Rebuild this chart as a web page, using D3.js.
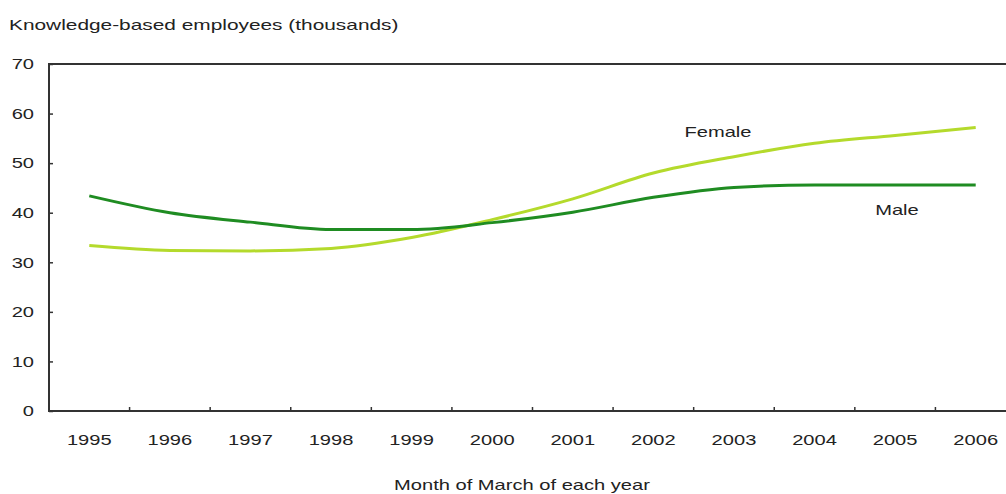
<!DOCTYPE html>
<html lang="en">
<head>
<meta charset="UTF-8">
<title>Knowledge-based employees</title>
<script src="https://d3js.org/d3.v7.min.js"></script>
<style>
  body {
    margin: 0;
    background: #fff;
    font-family: "Liberation Sans", Arial, sans-serif;
  }
  svg text {
    fill: #222;
  }
</style>
</head>
<body>
<div id="chart"></div>
<script>

// ------ Data ------
const years = ["1995", "1996", "1997", "1998", "1999", "2000",
               "2001", "2002", "2003", "2004", "2005", "2006"];
const male   = [43.4, 40.0, 38.1, 36.6, 36.6, 38.0, 40.1, 43.1, 45.1, 45.6, 45.6, 45.6];
const female = [33.4, 32.4, 32.3, 32.8, 35.0, 38.6, 42.8, 48.0, 51.3, 54.0, 55.6, 57.2];
const yTicks = [0, 10, 20, 30, 40, 50, 60, 70];

const width = 1006, height = 494;
const margin = {top: 64, right: -10, bottom: 83, left: 49};
const stretch = 1.34; // the original lettering is drawn wide

const svg = d3.select("#chart")
  .append("svg")
    .attr("width", width)
    .attr("height", height);

const x = d3.scaleBand()
    .domain(years)
    .range([margin.left, width - margin.right]);

const y = d3.scaleLinear()
    .domain([0, 70])
    .range([height - margin.bottom, margin.top]);

// frame: left, top and bottom lines
svg.append("path")
    .attr("d", `M${width - margin.right},${y(70)}H${margin.left}V${y(0)}H${width - margin.right}`)
    .attr("fill", "none")
    .attr("stroke", "#333")
    .attr("stroke-width", 2);

// y axis
const yAxis = svg.append("g")
    .attr("transform", `translate(${margin.left},0)`)
    .call(d3.axisRight(y).tickValues(yTicks).tickSize(4).tickFormat(d3.format("d")));
yAxis.select(".domain").remove();
yAxis.selectAll(".tick line").attr("stroke", "#333").attr("stroke-width", 1.5);
yAxis.selectAll(".tick text")
    .attr("x", -15)
    .attr("text-anchor", "end")
    .attr("fill", "#222")
    .style("font-size", "15px")
    .style("font-family", "'Liberation Sans', Arial, sans-serif");

// x axis: ticks at band boundaries, labels centered
const xAxis = svg.append("g")
    .attr("transform", `translate(0,${y(0)})`);
xAxis.selectAll("line")
  .data(years.slice(1))
  .join("line")
    .attr("x1", d => x(d))
    .attr("x2", d => x(d))
    .attr("y1", 0)
    .attr("y2", -4)
    .attr("stroke", "#333")
    .attr("stroke-width", 1.5);
xAxis.selectAll("text")
  .data(years)
  .join("text")
    .attr("x", d => x(d) + x.bandwidth() / 2)
    .attr("y", 34)
    .attr("text-anchor", "middle")
    .style("font-size", "15px")
    .text(d => d);

// lines
const line = d3.line()
    .x((d, i) => x(years[i]) + x.bandwidth() / 2)
    .y(d => y(d))
    .curve(d3.curveMonotoneX);

svg.append("path")
    .datum(female)
    .attr("d", line)
    .attr("fill", "none")
    .attr("stroke", "#b4da2c")
    .attr("stroke-width", 3);

svg.append("path")
    .datum(male)
    .attr("d", line)
    .attr("fill", "none")
    .attr("stroke", "#1f8c22")
    .attr("stroke-width", 3);

// series labels
svg.append("text")
    .attr("x", 718)
    .attr("y", 137)
    .attr("text-anchor", "middle")
    .style("font-size", "15px")
    .text("Female");

svg.append("text")
    .attr("x", 897)
    .attr("y", 215)
    .attr("text-anchor", "middle")
    .style("font-size", "15px")
    .text("Male");

// titles
svg.append("text")
    .attr("class", "title")
    .attr("x", 9)
    .attr("y", 30)
    .style("font-size", "15px")
    .text("Knowledge-based employees (thousands)");

svg.append("text")
    .attr("x", 522)
    .attr("y", 490)
    .attr("text-anchor", "middle")
    .style("font-size", "15px")
    .text("Month of March of each year");

// widen every label to match the original lettering
svg.selectAll("text").each(function() {
  const w = this.getComputedTextLength();
  const k = this.classList.contains("title") ? 1.39 : stretch;
  d3.select(this)
    .attr("textLength", w * k)
    .attr("lengthAdjust", "spacingAndGlyphs");
});

</script>
</body>
</html>
